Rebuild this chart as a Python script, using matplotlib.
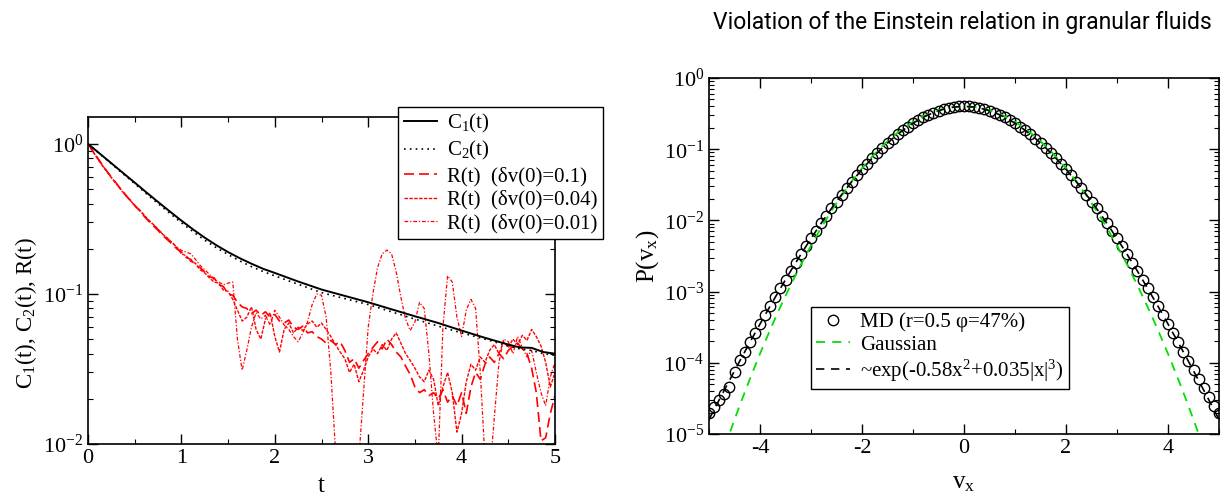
import numpy as np
import matplotlib.pyplot as plt
from matplotlib.ticker import LogLocator, NullFormatter, MultipleLocator

plt.rcParams['font.family'] = ['Liberation Serif', 'DejaVu Serif']
plt.rcParams['mathtext.fontset'] = 'custom'
plt.rcParams['mathtext.rm'] = 'Liberation Serif'
plt.rcParams['mathtext.it'] = 'Liberation Serif'
plt.rcParams['axes.unicode_minus'] = False

# ---- left panel data: correlation and response functions ----
t_c = [0, .125, .25, .375, .5, .625, .75, .875, 1, 1.125, 1.25, 1.375, 1.5,
       1.625, 1.75, 1.875, 2, 2.25, 2.5, 2.75, 3, 3.25, 3.5, 3.75, 4, 4.25,
       4.5, 4.625, 4.75, 4.875, 5]
c1 = [1.0, 0.862, 0.743, 0.64, 0.552, 0.475, 0.41, 0.355, 0.308, 0.269, 0.237,
      0.211, 0.19, 0.173, 0.159, 0.147, 0.138, 0.121, 0.107, 0.097, 0.088,
      0.079, 0.071, 0.064, 0.057, 0.051, 0.046, 0.044, 0.0437, 0.041, 0.040]
c2 = [1.0, 0.858, 0.737, 0.632, 0.543, 0.465, 0.40, 0.345, 0.298, 0.260, 0.228,
      0.203, 0.183, 0.166, 0.152, 0.141, 0.132, 0.116, 0.102, 0.093, 0.085,
      0.076, 0.068, 0.061, 0.055, 0.050, 0.045, 0.043, 0.042, 0.040, 0.039]

t_r = [round(0.05 * i, 2) for i in range(101)]
r_01 = [1.00, 0.90, 0.81, 0.73, 0.66, 0.60, 0.55, 0.50, 0.46, 0.42,
        0.39, 0.36, 0.33, 0.305, 0.285, 0.265, 0.245, 0.23, 0.215, 0.20,
        0.19, 0.175, 0.17, 0.155, 0.15, 0.14, 0.13, 0.128, 0.115, 0.112,
        0.10, 0.098, 0.088, 0.082, 0.080, 0.074, 0.078, 0.072, 0.076, 0.070,
        0.073, 0.066, 0.064, 0.067, 0.060, 0.058, 0.061, 0.055, 0.056, 0.052,
        0.050, 0.047, 0.049, 0.046, 0.048, 0.042, 0.035, 0.037, 0.032, 0.036,
        0.040, 0.044, 0.048, 0.043, 0.050, 0.046, 0.041, 0.038, 0.033, 0.029,
        0.024, 0.022, 0.023, 0.021, 0.022, 0.020, 0.023, 0.019, 0.021, 0.018,
        0.022, 0.016, 0.024, 0.030, 0.027, 0.034, 0.038, 0.035, 0.040, 0.037,
        0.042, 0.045, 0.047, 0.043, 0.040, 0.032, 0.022, 0.0105, 0.011, 0.016,
        0.021]
r_004 = [1.00, 0.89, 0.80, 0.72, 0.655, 0.595, 0.545, 0.50, 0.455, 0.425,
         0.385, 0.365, 0.335, 0.31, 0.29, 0.27, 0.25, 0.235, 0.22, 0.205,
         0.185, 0.18, 0.165, 0.16, 0.145, 0.138, 0.128, 0.12, 0.118, 0.106,
         0.104, 0.092, 0.078, 0.066, 0.070, 0.082, 0.058, 0.050, 0.068, 0.075,
         0.052, 0.041, 0.058, 0.064, 0.055, 0.060, 0.057, 0.063, 0.066, 0.060,
         0.064, 0.058, 0.052, 0.046, 0.041, 0.037, 0.030, 0.034, 0.026, 0.031,
         0.038, 0.043, 0.040, 0.046, 0.042, 0.050, 0.055, 0.047, 0.040, 0.036,
         0.032, 0.028, 0.026, 0.031, 0.027, 0.018, 0.024, 0.030, 0.022, 0.012,
         0.016, 0.026, 0.034, 0.031, 0.038, 0.035, 0.042, 0.046, 0.040, 0.048,
         0.044, 0.050, 0.046, 0.053, 0.049, 0.058, 0.052, 0.045, 0.035, 0.024,
         0.030]
r_001 = [1.00, 0.90, 0.805, 0.725, 0.66, 0.60, 0.545, 0.495, 0.455, 0.42,
         0.39, 0.36, 0.335, 0.31, 0.29, 0.27, 0.25, 0.235, 0.22, 0.205,
         0.195, 0.19, 0.185, 0.17, 0.155, 0.145, 0.135, 0.125, 0.12, 0.115,
         0.118, 0.12, 0.05, 0.031, 0.042, 0.060, 0.075, 0.068, 0.072, 0.062,
         0.078, 0.070, 0.062, 0.058, 0.052, 0.048, 0.055, 0.065, 0.085, 0.100,
         0.098, 0.070, 0.030, 0.009, 0.005, 0.004, 0.004, 0.005, 0.008, 0.022,
         0.060, 0.100, 0.150, 0.185, 0.196, 0.185, 0.140, 0.095, 0.068, 0.057,
         0.065, 0.088, 0.080, 0.040, 0.016, 0.008, 0.060, 0.132, 0.120, 0.070,
         0.052, 0.078, 0.092, 0.080, 0.030, 0.008, 0.006, 0.015, 0.035, 0.050,
         0.048, 0.040, 0.052, 0.044, 0.038, 0.042, 0.030, 0.022, 0.018, 0.028,
         0.035]

# ---- right panel data: velocity distribution ----
v_md = [round(-5 + 0.1 * i, 1) for i in range(101)]
p_md = [2.0e-5, 2.4e-5, 3.0e-5, 3.6e-5, 4.6e-5, 7.4e-5, 1.1e-4, 1.42e-4, 1.93e-4, 2.6e-4,
        3.5e-4, 4.7e-4, 6.3e-4, 8.4e-4, 1.11e-3, 1.47e-3, 1.94e-3, 2.54e-3, 3.32e-3, 4.31e-3,
        5.57e-3, 7.15e-3, 9.14e-3, 0.0116, 0.0147, 0.0184, 0.0230, 0.0285, 0.0351, 0.0429,
        0.0520, 0.0627, 0.0749, 0.0889, 0.105, 0.122, 0.141, 0.162, 0.184, 0.208,
        0.232, 0.256, 0.281, 0.305, 0.327, 0.348, 0.365, 0.380, 0.391, 0.398,
        0.400,
        0.398, 0.391, 0.380, 0.365, 0.348, 0.327, 0.305, 0.281, 0.256, 0.232,
        0.208, 0.184, 0.162, 0.141, 0.122, 0.105, 0.0889, 0.0749, 0.0627, 0.0520,
        0.0429, 0.0351, 0.0285, 0.0230, 0.0184, 0.0147, 0.0116, 9.14e-3, 7.15e-3, 5.57e-3,
        4.31e-3, 3.32e-3, 2.54e-3, 1.94e-3, 1.47e-3, 1.11e-3, 8.4e-4, 6.3e-4, 4.7e-4, 3.5e-4,
        2.6e-4, 1.93e-4, 1.42e-4, 1.05e-4, 7.9e-5, 5.9e-5, 4.4e-5, 3.3e-5, 2.5e-5, 2.0e-5]

v_line = [round(-5 + 0.2 * i, 1) for i in range(51)]
p_gauss = [1.49e-6, 3.96e-6, 1.01e-5, 2.49e-5, 5.89e-5, 1.34e-4, 2.92e-4, 6.12e-4, 1.23e-3, 2.38e-3,
           4.43e-3, 7.92e-3, 0.0136, 0.0224, 0.0355, 0.0540, 0.0790, 0.1109, 0.1497, 0.1942,
           0.2420, 0.2897, 0.3332, 0.3683, 0.3910, 0.3989, 0.3910, 0.3683, 0.3332, 0.2897,
           0.2420, 0.1942, 0.1497, 0.1109, 0.0790, 0.0540, 0.0355, 0.0224, 0.0136, 7.92e-3,
           4.43e-3, 2.38e-3, 1.23e-3, 6.12e-4, 2.92e-4, 1.34e-4, 5.89e-5, 2.49e-5, 1.01e-5, 3.96e-6,
           1.49e-6]
p_fit = [1.6e-5, 3.02e-5, 5.65e-5, 1.05e-4, 1.93e-4, 3.50e-4, 6.29e-4, 1.11e-3, 1.94e-3, 3.32e-3,
         5.57e-3, 9.14e-3, 0.0147, 0.0230, 0.0351, 0.0520, 0.0749, 0.105, 0.141, 0.184,
         0.232, 0.281, 0.327, 0.365, 0.391, 0.400, 0.391, 0.365, 0.327, 0.281,
         0.232, 0.184, 0.141, 0.105, 0.0749, 0.0520, 0.0351, 0.0230, 0.0147, 9.14e-3,
         5.57e-3, 3.32e-3, 1.94e-3, 1.11e-3, 6.29e-4, 3.50e-4, 1.93e-4, 1.05e-4, 5.65e-5, 3.02e-5,
         1.6e-5]

fig = plt.figure(figsize=(12.25, 5), dpi=100)
ax1 = fig.add_axes([88 / 1225, 1 - 444 / 500, 467 / 1225, 327 / 500])
ax2 = fig.add_axes([709 / 1225, 1 - 434 / 500, 510 / 1225, 356 / 500])

red = '#ff0000'
ax1.plot(t_r, r_01, color=red, lw=1.2, dashes=(6, 3), label='R(t)  (δv(0)=0.1)')
ax1.plot(t_r, r_004, color=red, lw=1.0, dashes=(2.5, 1), label='R(t)  (δv(0)=0.04)')
ax1.plot(t_r, r_001, color=red, lw=0.9, dashes=(3, 1.5, 1, 1.5), label='R(t)  (δv(0)=0.01)')
ax1.plot(t_c, c1, color='black', lw=1.4, label='C$_{1}$(t)')
ax1.plot(t_c, c2, color='black', lw=1.2, dashes=(1, 2.5), label='C$_{2}$(t)')

ax1.set_yscale('log')
ax1.set_xlim(0, 5)
ax1.set_ylim(0.01, 1.51)
ax1.xaxis.set_major_locator(MultipleLocator(1))
ax1.xaxis.set_minor_locator(MultipleLocator(0.5))
ax1.yaxis.set_major_locator(LogLocator(base=10))
ax1.yaxis.set_minor_locator(LogLocator(base=10, subs=np.arange(2, 10)))
ax1.yaxis.set_minor_formatter(NullFormatter())
ax1.set_xlabel('t', fontsize=18, labelpad=5)
ax1.set_ylabel('C$_{1}$(t), C$_{2}$(t), R(t)', fontsize=16.5)
ax1.yaxis.set_label_coords(-0.105, 0.40)

h, lab = ax1.get_legend_handles_labels()
order = [3, 4, 0, 1, 2]
leg1 = ax1.legend([h[i] for i in order], [lab[i] for i in order],
                  loc='upper right', bbox_to_anchor=(603 / 1225, 1 - 107 / 500),
                  bbox_transform=fig.transFigure, fontsize=15, frameon=True,
                  fancybox=False, framealpha=1, edgecolor='black',
                  handlelength=1.6, handletextpad=0.5, labelspacing=0.2,
                  borderpad=0.25, borderaxespad=0)
leg1.get_frame().set_linewidth(1.0)

ax2.plot(v_md, p_md, 'o', ms=7.5, mfc='none', mec='black', mew=1.0,
         label='MD (r=0.5 φ=47%)')
ax2.plot(v_line, p_gauss, color='#00e000', lw=1.3, dashes=(5, 4), label='Gaussian')
ax2.plot(v_line, p_fit, color='black', lw=1.2, dashes=(5, 4),
         label='~exp(-0.58x$^{2}$+0.035|x|$^{3}$)')

ax2.set_yscale('log')
ax2.set_xlim(-5, 5)
ax2.set_ylim(1e-5, 1)
ax2.xaxis.set_major_locator(MultipleLocator(2))
ax2.xaxis.set_minor_locator(MultipleLocator(1))
ax2.yaxis.set_major_locator(LogLocator(base=10))
ax2.yaxis.set_minor_locator(LogLocator(base=10, subs=np.arange(2, 10)))
ax2.yaxis.set_minor_formatter(NullFormatter())
ax2.set_xlabel('v$_{x}$', fontsize=18, labelpad=10)
ax2.set_ylabel('P(v$_{x}$)', fontsize=18, labelpad=2)

leg2 = ax2.legend(loc='upper left', bbox_to_anchor=(811 / 1225, 1 - 307 / 500),
                  bbox_transform=fig.transFigure, fontsize=15, frameon=True,
                  fancybox=False, framealpha=1, edgecolor='black',
                  handlelength=1.6, handletextpad=0.5, labelspacing=0.15,
                  borderpad=0.25, borderaxespad=0)
leg2.get_frame().set_linewidth(1.0)

for ax in (ax1, ax2):
    ax.tick_params(which='both', direction='in', top=True, right=True, labelsize=16)
    ax.tick_params(which='major', length=7, width=1)
    ax.tick_params(which='minor', length=3.5, width=0.8)
    for s in ax.spines.values():
        s.set_linewidth(1.2)

fig.text(1212 / 1225, 1 - 29 / 500, 'Violation of the Einstein relation in granular fluids',
         ha='right', va='baseline', fontsize=16.5, family='Roboto')

fig.savefig('out.png', dpi=100)
